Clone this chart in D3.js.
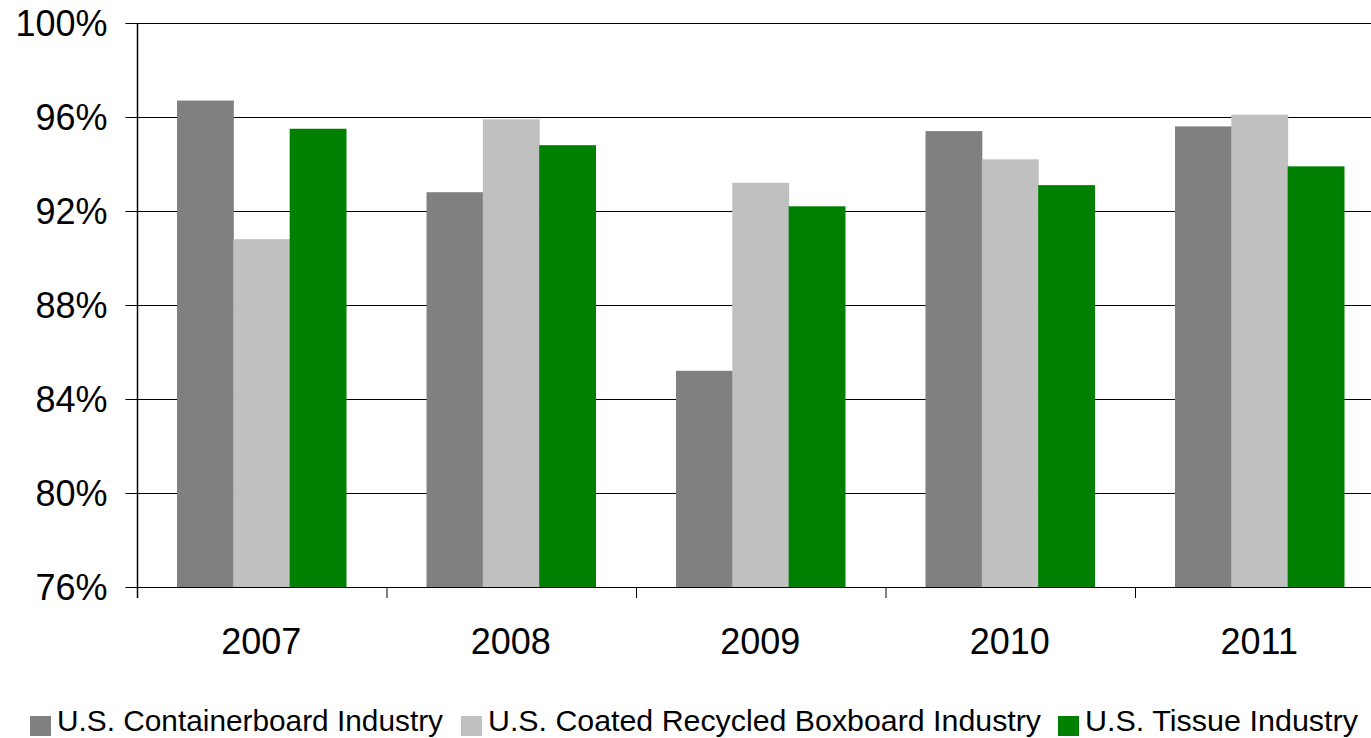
<!DOCTYPE html>
<html>
<head>
<meta charset="utf-8">
<script src="https://cdn.jsdelivr.net/npm/d3@7"></script>
<style>
  body { margin: 0; background: #fff; }
  svg { display: block; font-family: "Liberation Sans", Arial, sans-serif; }
</style>
</head>
<body>
<div id="chart"></div>
<script>
const years = ["2007", "2008", "2009", "2010", "2011"];
const seriesNames = [
  "U.S. Containerboard Industry",
  "U.S. Coated Recycled Boxboard Industry",
  "U.S. Tissue Industry"
];
const containerboard = [96.7, 92.8, 85.2, 95.4, 95.6];
const boxboard = [90.8, 95.9, 93.2, 94.2, 96.1];
const tissue = [95.5, 94.8, 92.2, 93.1, 93.9];
const yTicks = [76, 80, 84, 88, 92, 96, 100];
const colors = ["#808080", "#c0c0c0", "#008000"];

const W = 1371, H = 738;
const plot = { left: 137.5, right: 1385, top: 23, bottom: 587 };

const svg = d3.select("#chart").append("svg")
  .attr("width", W).attr("height", H);

const x0 = d3.scaleBand().domain(years).range([plot.left, plot.right]);
const x1 = d3.scaleBand().domain(seriesNames).range([39.5, x0.bandwidth() - 41]);
const y = d3.scaleLinear().domain([76, 100]).range([plot.bottom, plot.top]);

const data = years.map((yr, i) => ({
  year: yr,
  vals: [containerboard[i], boxboard[i], tissue[i]]
}));

// gridlines
svg.append("g")
  .selectAll("line")
  .data(yTicks.slice(1))
  .enter()
  .append("line")
  .attr("x1", plot.left).attr("x2", W)
  .attr("y1", d => Math.round(y(d)) + 0.5)
  .attr("y2", d => Math.round(y(d)) + 0.5)
  .attr("stroke", "#000")
  .attr("stroke-width", 1);

// bars
svg.append("g")
  .selectAll("g")
  .data(data)
  .enter()
  .append("g")
  .attr("transform", d => "translate(" + x0(d.year) + ",0)")
  .selectAll("rect")
  .data(d => d.vals.map((v, j) => ({ name: seriesNames[j], v: v, j: j })))
  .enter()
  .append("rect")
  .attr("x", d => x1(d.name))
  .attr("width", x1.bandwidth() + 0.5)
  .attr("y", d => y(d.v))
  .attr("height", d => plot.bottom - y(d.v))
  .attr("fill", d => colors[d.j]);

// y axis
const yAxis = svg.append("g")
  .attr("transform", "translate(" + plot.left + ",0)")
  .call(d3.axisLeft(y).tickValues(yTicks).tickSize(12).tickSizeOuter(0).tickFormat(d => d + "%"));
yAxis.select(".domain").remove();
yAxis.selectAll("line").attr("stroke", "#000");
yAxis.selectAll("text")
  .attr("x", -30)
  .attr("dy", "0.36em")
  .style("font-size", "36px")
  .style("font-family", "Liberation Sans, Arial, sans-serif")
  .attr("fill", "#000");

svg.append("line")
  .attr("x1", plot.left).attr("x2", plot.left)
  .attr("y1", plot.top).attr("y2", plot.bottom + 11)
  .attr("stroke", "#000").attr("stroke-width", 1.5);

// x axis
svg.append("line")
  .attr("x1", plot.left).attr("x2", W)
  .attr("y1", plot.bottom + 0.5).attr("y2", plot.bottom + 0.5)
  .attr("stroke", "#000");

svg.append("g")
  .selectAll("line")
  .data(years)
  .enter()
  .append("line")
  .attr("x1", d => x0(d)).attr("x2", d => x0(d))
  .attr("y1", plot.bottom).attr("y2", plot.bottom + 11)
  .attr("stroke", "#000");

svg.append("g")
  .selectAll("text")
  .data(years)
  .enter()
  .append("text")
  .attr("x", d => x0(d) + x0.bandwidth() / 2 - 1)
  .attr("y", 654)
  .attr("text-anchor", "middle")
  .style("font-size", "36px")
  .text(d => d);

// legend
const legendPos = [
  { sx: 30, tx: 57, tw: 386 },
  { sx: 461, tx: 488, tw: 553 },
  { sx: 1058, tx: 1085, tw: 273 }
];
const legend = svg.append("g");
seriesNames.forEach((name, i) => {
  legend.append("rect")
    .attr("x", legendPos[i].sx).attr("y", 716)
    .attr("width", 21).attr("height", 20)
    .attr("fill", colors[i]);
  legend.append("text")
    .attr("x", legendPos[i].tx).attr("y", 730.5)
    .attr("textLength", legendPos[i].tw)
    .attr("lengthAdjust", "spacingAndGlyphs")
    .style("font-size", "30px")
    .text(name);
});
</script>
</body>
</html>
